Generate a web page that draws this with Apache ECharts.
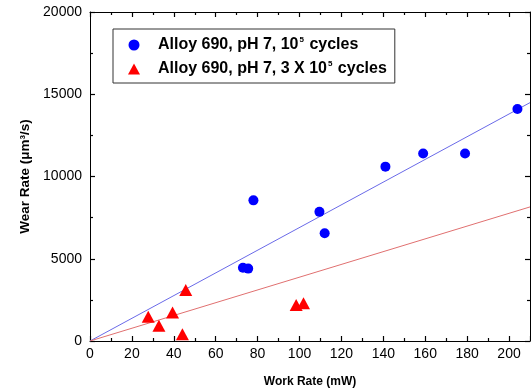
<!DOCTYPE html>
<html>
<head>
<meta charset="utf-8">
<script src="https://cdn.jsdelivr.net/npm/echarts@6/dist/echarts.min.js"></script>
<style>
  html, body { margin: 0; padding: 0; background: #fff; }
  #chart { width: 531px; height: 391px; }
</style>
</head>
<body>
<div id="chart"></div>
<script>
// Alloy 690, pH 7, 10^5 cycles  [work rate mW, wear rate um^3/s]
const workRate1 = [73, 75.5, 78, 109.5, 112, 141, 159, 179, 204];
const wearRate1 = [4450, 4400, 8550, 7850, 6550, 10600, 11400, 11400, 14100];
// Alloy 690, pH 7, 3 X 10^5 cycles
const workRate2 = [27.8, 32.9, 39.4, 44.1, 45.7, 98.4, 101.9];
const wearRate2 = [1480, 930, 1740, 410, 3100, 2190, 2290];
// fitted lines through origin (end points)
const fitBlue = [[0, 0], [210, 14490]];
const fitRed = [[0, 0], [210, 8150]];
const names = ["Alloy 690, pH 7, 10^5 cycles", "Alloy 690, pH 7, 3 X 10^5 cycles"];

const pts = (xs, ys) => xs.map((x, i) => [x, ys[i]]);
const font = "Liberation Sans, Arial, sans-serif";

// every axis gets its own fresh frame settings
// (tick width exactly 1 does not draw here, so 1.2)
const axis = (extra) => Object.assign({
  type: "value",
  axisLine: { show: true, onZero: false, lineStyle: { color: "#000", width: 1 } },
  axisTick: { show: true, inside: true, length: 5, lineStyle: { color: "#000", width: 1.2 } },
  minorTick: { show: true, splitNumber: 2, length: 3, lineStyle: { color: "#000", width: 1.2 } },
  splitLine: { show: false },
}, extra);

const chart = echarts.init(document.getElementById("chart"));
chart.setOption({
  animation: false,
  backgroundColor: "#fff",
  grid: { left: 90, right: 1, top: 12, bottom: 50, outerBoundsMode: "none" },
  legend: {
    data: [{ name: names[0], icon: "circle" }, { name: names[1], icon: "triangle" }],
    orient: "vertical",
    left: 113,
    top: 29,
    padding: [7, 8, 6, 15],
    itemGap: 7,
    itemWidth: 12,
    itemHeight: 11,
    borderColor: "#333",
    borderWidth: 1,
    formatter: (name) => {
      const parts = name.split("^5");
      return "{g|}{b|" + parts[0] + "}{s|5}{b|" + parts[1] + "}";
    },
    textStyle: {
      rich: {
        g: { width: 13 },
        b: { fontFamily: font, fontWeight: "bold", fontSize: 16, color: "#000", lineHeight: 18 },
        s: { fontFamily: font, fontWeight: "bold", fontSize: 8, color: "#000", verticalAlign: "top", lineHeight: 18, padding: [0, 1, 6, 1] },
      },
    },
  },
  xAxis: [
    axis({
      min: 0, max: 210, interval: 20,
      name: "Work Rate (mW)", nameLocation: "middle", nameGap: 35,
      nameTextStyle: { fontFamily: font, fontWeight: "bold", fontSize: 12, color: "#000" },
      axisLabel: { showMaxLabel: false, fontFamily: font, fontSize: 14, color: "#000", margin: 6 },
    }),
    axis({ min: 0, max: 210, interval: 20, position: "top", axisLabel: { show: false } }),
  ],
  yAxis: [
    axis({
      min: 0, max: 20000, interval: 5000,
      name: "Wear Rate (μm³/s)", nameLocation: "middle", nameGap: 53,
      nameTextStyle: { fontFamily: font, fontWeight: "bold", fontSize: 13.5, color: "#000" },
      axisLabel: { fontFamily: font, fontSize: 14, color: "#000", margin: 8, formatter: (v) => String(v) },
    }),
    axis({ min: 0, max: 20000, interval: 5000, position: "right", axisLabel: { show: false } }),
  ],
  series: [
    {
      type: "line", data: fitBlue, showSymbol: false, silent: true, z: 1,
      lineStyle: { color: "#6a6ae8", width: 1 },
    },
    {
      type: "line", data: fitRed, showSymbol: false, silent: true, z: 1,
      lineStyle: { color: "#e07070", width: 1 },
    },
    {
      name: names[0], type: "scatter", data: pts(workRate1, wearRate1),
      symbol: "circle", symbolSize: 10, z: 3,
      itemStyle: { color: "#0000ff", opacity: 1 },
    },
    {
      name: names[1], type: "scatter", data: pts(workRate2, wearRate2),
      symbol: "triangle", symbolSize: [13, 12], z: 3,
      itemStyle: { color: "#ff0000", opacity: 1 },
    },
  ],
});
</script>
</body>
</html>
